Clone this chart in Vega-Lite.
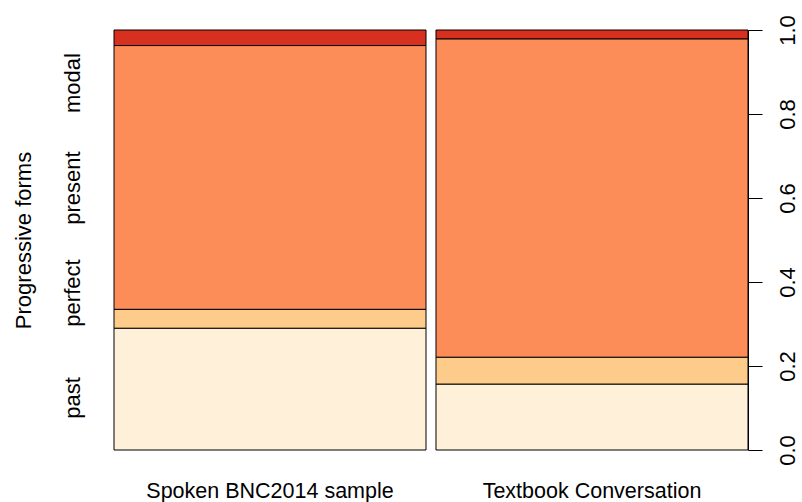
{
  "$schema": "https://vega.github.io/schema/vega-lite/v6.json",
  "width": 634,
  "height": 420,
  "autosize": {"type": "none"},
  "padding": {"left": 114, "top": 30, "right": 54, "bottom": 52},
  "background": "white",
  "config": {"view": {"stroke": null}, "font": "Liberation Sans"},
  "layer": [
    {
      "data": {
        "values": [
          {"group": "Spoken BNC2014 sample", "form": "past", "rank": 1, "prop": 0.290},
          {"group": "Spoken BNC2014 sample", "form": "perfect", "rank": 2, "prop": 0.045},
          {"group": "Spoken BNC2014 sample", "form": "present", "rank": 3, "prop": 0.628},
          {"group": "Spoken BNC2014 sample", "form": "modal", "rank": 4, "prop": 0.037},
          {"group": "Textbook Conversation", "form": "past", "rank": 1, "prop": 0.157},
          {"group": "Textbook Conversation", "form": "perfect", "rank": 2, "prop": 0.064},
          {"group": "Textbook Conversation", "form": "present", "rank": 3, "prop": 0.758},
          {"group": "Textbook Conversation", "form": "modal", "rank": 4, "prop": 0.021}
        ]
      },
      "mark": {"type": "bar", "stroke": "black", "strokeWidth": 1},
      "encoding": {
        "x": {
          "field": "group",
          "type": "nominal",
          "sort": ["Spoken BNC2014 sample", "Textbook Conversation"],
          "scale": {"paddingInner": 0.031, "paddingOuter": 0},
          "axis": {
            "title": null,
            "orient": "bottom",
            "labelAngle": 0,
            "ticks": false,
            "domain": false,
            "labelPadding": 30,
            "labelFontSize": 21.5,
            "labelLimit": 500,
            "labelColor": "black",
            "labelBaseline": "top"
          }
        },
        "y": {
          "field": "prop",
          "type": "quantitative",
          "stack": "zero",
          "scale": {"domain": [0, 1], "nice": false},
          "axis": {
            "orient": "right",
            "title": null,
            "values": [0, 0.2, 0.4, 0.6, 0.8, 1],
            "format": ".1f",
            "grid": false,
            "tickSize": 14,
            "tickColor": "black",
            "domainColor": "black",
            "labelPadding": 15,
            "labelAngle": 270,
            "labelAlign": "center",
            "labelBaseline": "top",
            "labelFontSize": 22,
            "labelColor": "black"
          }
        },
        "color": {
          "field": "form",
          "type": "nominal",
          "scale": {
            "domain": ["past", "perfect", "present", "modal"],
            "range": ["#fef0d9", "#fdcc8a", "#fc8d59", "#d7301f"]
          },
          "legend": null
        },
        "order": {"field": "rank", "type": "quantitative"}
      }
    },
    {
      "data": {
        "values": [
          {"label": "past", "pos": 0.125},
          {"label": "perfect", "pos": 0.375},
          {"label": "present", "pos": 0.625},
          {"label": "modal", "pos": 0.875}
        ]
      },
      "mark": {"type": "point", "opacity": 0},
      "encoding": {
        "y": {
          "field": "pos",
          "type": "quantitative",
          "axis": {
            "orient": "left",
            "title": "Progressive forms",
            "titleFontSize": 22,
            "titleFontWeight": "normal",
            "titleColor": "black",
            "titlePadding": 26,
            "values": [0.125, 0.375, 0.625, 0.875],
            "labelExpr": "datum.value < 0.25 ? 'past' : datum.value < 0.5 ? 'perfect' : datum.value < 0.75 ? 'present' : 'modal'",
            "grid": false,
            "ticks": false,
            "tickSize": 0,
            "domain": false,
            "labelPadding": 30,
            "labelAngle": 270,
            "labelAlign": "center",
            "labelBaseline": "bottom",
            "labelFontSize": 22,
            "labelColor": "black"
          }
        }
      }
    }
  ],
  "resolve": {"axis": {"y": "independent"}}
}
